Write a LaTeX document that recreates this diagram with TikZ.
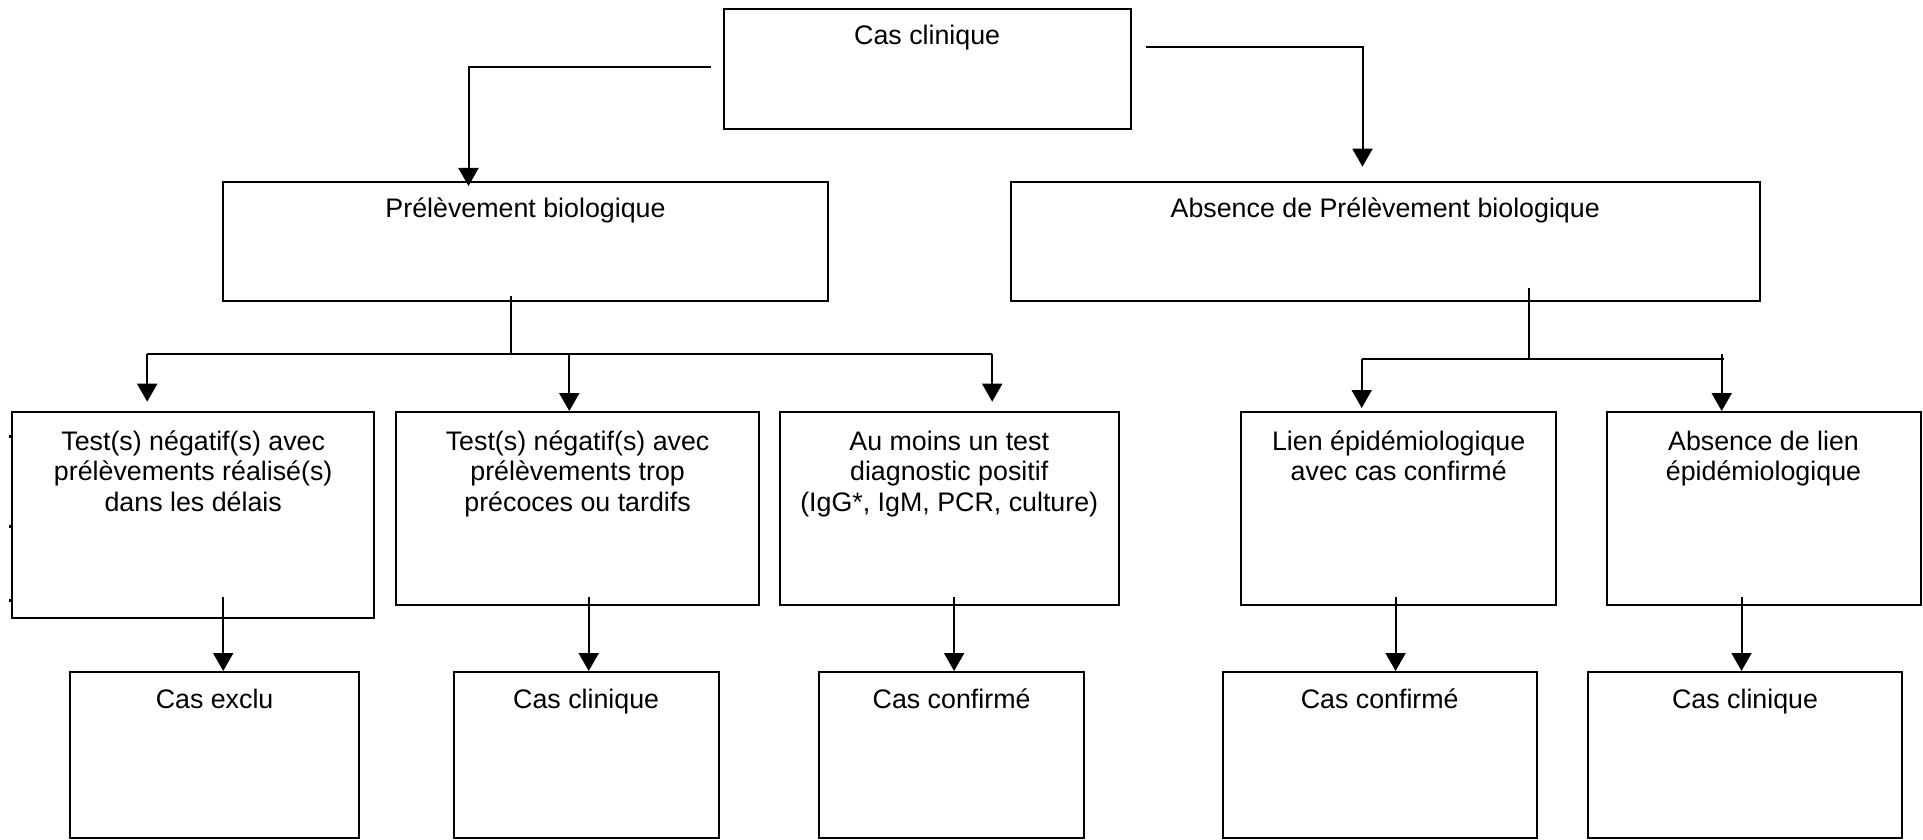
\documentclass[tikz,border=0pt]{standalone}
\usepackage{fontspec}
\setmainfont{Liberation Sans}
\usetikzlibrary{arrows.meta,fit}
\begin{document}
\begin{tikzpicture}[x=0.5pt,y=-0.5pt,
  box/.style={draw=black, line width=1pt, inner sep=0pt, outer sep=0pt},
  lbl/.style={anchor=base, inner sep=0pt, align=center, font=\fontsize{13.4pt}{15.4pt}\selectfont},
  conn/.style={draw=black, line width=1pt},
  arr/.style={conn, -{Triangle[length=9pt,width=10pt]}},
  tick/.style={draw=black, line width=1.5pt}
]
\useasboundingbox (0,0) rectangle (1923,840);

% boxes
\node[box, fit={(723.6,8.6) (1130.8,129)}] (top) {};
\node[box, fit={(223.2,181.7) (827.8,301)}] (pre) {};
\node[box, fit={(1010.5,181.7) (1759.9,301)}] (abs) {};
\node[box, fit={(12.3,411.7) (374,618)}] (A) {};
\node[box, fit={(396.1,411.7) (759.2,605)}] (B) {};
\node[box, fit={(780,411.7) (1118.5,605)}] (C) {};
\node[box, fit={(1241.1,411.7) (1556.3,605)}] (D) {};
\node[box, fit={(1606.6,411.7) (1920.5,605)}] (E) {};
\node[box, fit={(69.9,671.7) (359.3,838)}] (F) {};
\node[box, fit={(453.8,671.7) (718.7,838)}] (G) {};
\node[box, fit={(819.2,671.7) (1084.1,838)}] (H) {};
\node[box, fit={(1222.7,671.7) (1536.7,838)}] (I) {};
\node[box, fit={(1588.2,671.7) (1902.1,838)}] (J) {};

% texts (multi-line nodes: base = last line)
\node[lbl] (topt) at (927.2,44.3) {Cas clinique};
\node[lbl] (pret) at (525.5,218) {Prélèvement biologique};
\node[lbl] (abst) at (1385.2,218) {Absence de Prélèvement biologique};
\node[lbl] (At) at (193.2,511.6) {Test(s) négatif(s) avec\\prélèvements réalisé(s)\\dans les délais};
\node[lbl] (Bt) at (577.6,511.6) {Test(s) négatif(s) avec\\prélèvements trop\\précoces ou tardifs};
\node[lbl] (Ct) at (949.2,511.6) {Au moins un test\\diagnostic positif\\(IgG*, IgM, PCR, culture)};
\node[lbl] (Dt) at (1398.7,480.8) {Lien épidémiologique\\avec cas confirmé};
\node[lbl] (Et) at (1763.5,480.8) {Absence de lien\\épidémiologique};
\node[lbl] (Ft) at (214.6,708.5) {Cas exclu};
\node[lbl] (Gt) at (586.2,708.5) {Cas clinique};
\node[lbl] (Ht) at (951.6,708.5) {Cas confirmé};
\node[lbl] (It) at (1379.7,708.5) {Cas confirmé};
\node[lbl] (Jt) at (1745.1,708.5) {Cas clinique};

% ticks at left of box A
\coordinate (k1a) at (8.5,436.7); \coordinate (k1b) at (12.3,436.7);
\coordinate (k2a) at (8.5,526.7); \coordinate (k2b) at (12.3,526.7);
\coordinate (k3a) at (8.5,600); \coordinate (k3b) at (12.3,600);
\draw[tick] (k1a) -- (k1b);
\draw[tick] (k2a) -- (k2b);
\draw[tick] (k3a) -- (k3b);

% top connectors
\coordinate (s1) at (711,66.7);
\coordinate (e1) at (468.5,186);
\draw[arr] (s1) -| (e1);
\coordinate (s2) at (1145.5,46.7);
\coordinate (e2) at (1362.5,166.7);
\draw[arr] (s2) -| (e2);

% left branch
\coordinate (p1) at (511.4,296);
\coordinate (p2) at (511.4,354);
\coordinate (bL) at (147.2,354);
\coordinate (bM) at (569.3,354);
\coordinate (bR) at (992.2,354);
\coordinate (tA) at (147.2,401.7);
\coordinate (tB) at (569.3,411);
\coordinate (tC) at (992.2,401.7);
\draw[conn] (p1) -- (p2);
\draw[conn] (bL) -- (bR);
\draw[arr] (bL) -- (tA);
\draw[arr] (bM) -- (tB);
\draw[arr] (bR) -- (tC);

% right branch
\coordinate (q1) at (1529.3,288);
\coordinate (q2) at (1529.3,359);
\coordinate (cL) at (1361.7,359);
\coordinate (cR) at (1724,359);
\coordinate (cR2) at (1721.7,354);
\coordinate (tD) at (1361.7,408);
\coordinate (tE) at (1721.7,411);
\draw[conn] (q1) -- (q2);
\draw[conn] (cL) -- (cR);
\draw[arr] (cL) -- (tD);
\draw[arr] (cR2) -- (tE);

% lower arrows
\coordinate (u1) at (223.2,596.7); \coordinate (v1) at (223.2,671);
\coordinate (u2) at (588.7,596.7); \coordinate (v2) at (588.7,671);
\coordinate (u3) at (954.1,596.7); \coordinate (v3) at (954.1,671);
\coordinate (u4) at (1395.6,596.7); \coordinate (v4) at (1395.6,671);
\coordinate (u5) at (1741.5,596.7); \coordinate (v5) at (1741.5,671);
\draw[arr] (u1) -- (v1);
\draw[arr] (u2) -- (v2);
\draw[arr] (u3) -- (v3);
\draw[arr] (u4) -- (v4);
\draw[arr] (u5) -- (v5);
\end{tikzpicture}
\end{document}
